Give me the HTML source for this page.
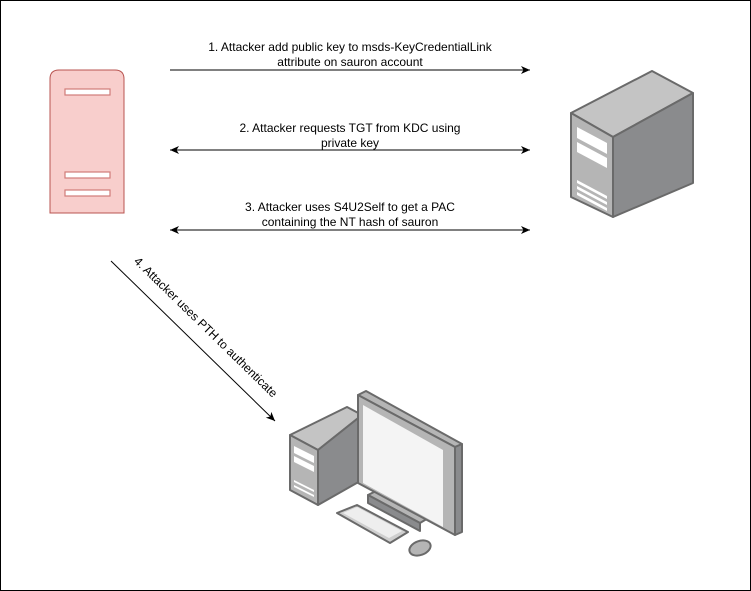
<!DOCTYPE html>
<html><head><meta charset="utf-8"><style>
html,body{margin:0;padding:0;background:#fff}
svg{display:block}
text{font-family:"Liberation Sans",Arial,sans-serif;font-size:12px;fill:#000}
</style></head><body>
<svg width="751" height="591" viewBox="0 0 751 591" xmlns="http://www.w3.org/2000/svg">
<defs>
<marker id="a" markerWidth="10" markerHeight="10" refX="9" refY="5" orient="auto" markerUnits="userSpaceOnUse">
<path d="M0,1 L9,5 L0,9 L2.5,5 Z" fill="#000"/></marker>
<marker id="b" markerWidth="10" markerHeight="10" refX="1" refY="5" orient="auto" markerUnits="userSpaceOnUse">
<path d="M10,1 L1,5 L10,9 L7.5,5 Z" fill="#000"/></marker>
</defs>
<rect x="0.5" y="0.5" width="750" height="590" fill="#fff" stroke="#000"/>
<!-- red server -->
<path d="M50,213 L50,79 Q50,70 59,70 L115,70 Q124,70 124,79 L124,213 Z" fill="#f8cecc" stroke="#b85450"/>
<rect x="65" y="89" width="45" height="6" fill="#fff" stroke="#d07c78" stroke-width="1.2"/>
<rect x="65" y="172" width="45" height="6" fill="#fff" stroke="#d07c78" stroke-width="1.2"/>
<rect x="65" y="190" width="45" height="6" fill="#fff" stroke="#d07c78" stroke-width="1.2"/>
<!-- arrows -->
<line x1="170" y1="70" x2="530" y2="70" stroke="#000" marker-end="url(#a)"/>
<line x1="170" y1="150" x2="530" y2="150" stroke="#000" marker-end="url(#a)" marker-start="url(#b)"/>
<line x1="170" y1="230" x2="530" y2="230" stroke="#000" marker-end="url(#a)" marker-start="url(#b)"/>
<line x1="111" y1="261" x2="275" y2="421" stroke="#000" marker-end="url(#a)"/>
<text x="350" y="51" text-anchor="middle">1. Attacker add public key to msds-KeyCredentialLink</text>
<text x="350" y="66" text-anchor="middle">attribute on sauron account</text>
<text x="350" y="132" text-anchor="middle">2. Attacker requests TGT from KDC using</text>
<text x="350" y="147" text-anchor="middle">private key</text>
<text x="350" y="211" text-anchor="middle">3. Attacker uses S4U2Self to get a PAC</text>
<text x="350" y="226" text-anchor="middle">containing the NT hash of sauron</text>
<text x="0" y="0" text-anchor="middle" transform="translate(203,330) rotate(44.3)">4. Attacker uses PTH to authenticate</text>
<!-- grey server -->
<polygon points="571,113 652,71 693,93 613,137" fill="#c4c4c4" stroke="#6a6a6a" stroke-width="2" stroke-linejoin="round"/>
<polygon points="613,137 693,93 693,183 613,217" fill="#8a8b8d" stroke="#6a6a6a" stroke-width="2" stroke-linejoin="round"/>
<polygon points="571,113 613,137 613,217 571,197" fill="#b5b5b5" stroke="#6a6a6a" stroke-width="2" stroke-linejoin="round"/>
<polygon points="577,127 607,143 607,154 577,138" fill="#fff"/>
<polygon points="577,142 607,158 607,168 577,152" fill="#fff"/>
<polygon points="577,180 607,196 607,199 577,183" fill="#fff"/>
<polygon points="577,186 607,202 607,205 577,189" fill="#fff"/>
<polygon points="577,192 607,208 607,211 577,195" fill="#fff"/>
<!-- desktop tower -->
<polygon points="290,435 347,407 362,415 318,450" fill="#c4c4c4" stroke="#6a6a6a" stroke-width="2" stroke-linejoin="round"/>
<polygon points="318,450 362,415 362,480 318,505" fill="#8a8b8d" stroke="#6a6a6a" stroke-width="2" stroke-linejoin="round"/>
<polygon points="290,435 318,450 318,505 290,490" fill="#b5b5b5" stroke="#6a6a6a" stroke-width="2" stroke-linejoin="round"/>
<polygon points="294,446 314,456 314,463 294,453" fill="#fff"/>
<polygon points="294,456 314,466 314,472 294,462" fill="#fff"/>
<polygon points="294,480 314,490 314,492 294,482" fill="#fff"/>
<polygon points="294,485 314,495 314,497 294,487" fill="#fff"/>
<!-- stand -->
<polygon points="368,495 378,490 430,517 420,523" fill="#b5b5b5" stroke="#6a6a6a" stroke-width="2" stroke-linejoin="round"/>
<polygon points="368,495 420,523 420,531 368,503" fill="#8a8b8d" stroke="#6a6a6a" stroke-width="2" stroke-linejoin="round"/>
<!-- monitor -->
<polygon points="358,395 366,391 462,444 455,447" fill="#b5b5b5" stroke="#6a6a6a" stroke-width="2" stroke-linejoin="round"/>
<polygon points="455,447 462,444 462,532 455,535" fill="#8a8b8d" stroke="#6a6a6a" stroke-width="2" stroke-linejoin="round"/>
<polygon points="358,395 455,447 455,535 358,483" fill="#b5b5b5" stroke="#6a6a6a" stroke-width="2" stroke-linejoin="round"/>
<polygon points="363,405 443,450 443,527 363,483" fill="#f4f4f4"/>
<!-- keyboard -->
<polygon points="337,513 357,505 408,532 390,543" fill="#cfcfcf" stroke="#6a6a6a" stroke-width="2" stroke-linejoin="round"/>
<polygon points="343,513 357,507 402,531 389,538" fill="#eee"/>
<!-- mouse -->
<ellipse cx="420" cy="548" rx="11" ry="7" transform="rotate(-20 420 548)" fill="#b5b5b5" stroke="#6a6a6a" stroke-width="2"/>
</svg>
</body></html>
